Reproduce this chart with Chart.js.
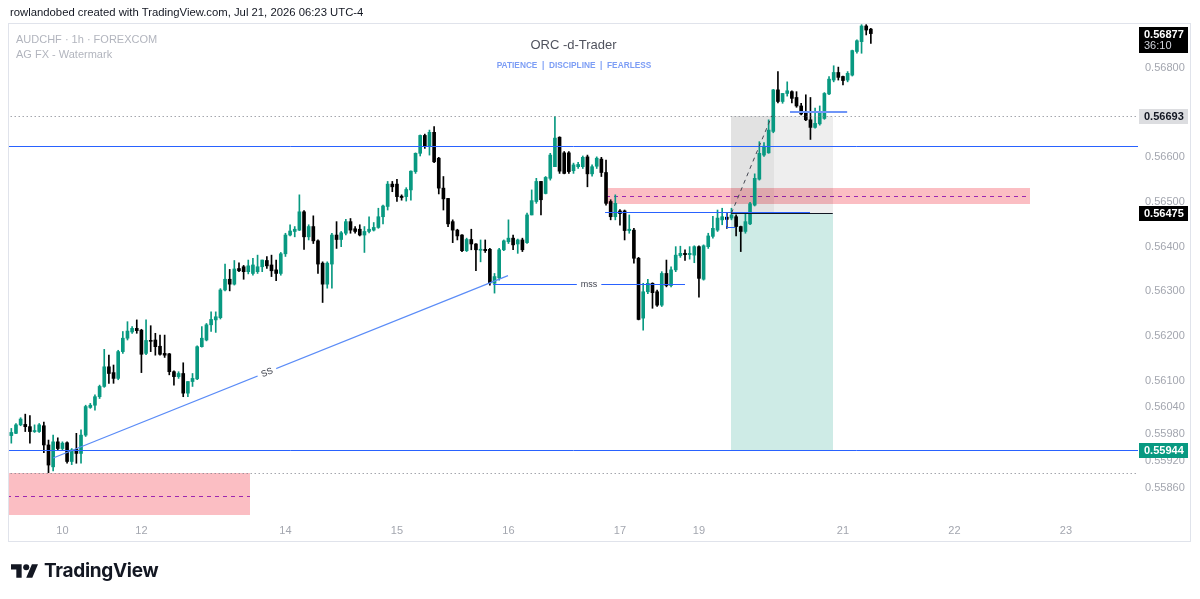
<!DOCTYPE html>
<html>
<head>
<meta charset="utf-8">
<script src="https://cdn.jsdelivr.net/npm/chart.js@4.4.1/dist/chart.umd.min.js"></script>
<style>
html, body { margin: 0; padding: 0; background: #fff; }
#wrap { position: relative; width: 1200px; height: 599px; overflow: hidden; font-family: "Liberation Sans", Arial, sans-serif; }
#c { position: absolute; left: 0; top: 0; }
.t { position: absolute; white-space: nowrap; line-height: 1; }
</style>
</head>
<body>
<div id="wrap">
  <canvas id="c" width="1200" height="599"></canvas>
  <div class="t" style="left:10px;top:7px;font-size:11.3px;color:#131722">rowlandobed created with TradingView.com, Jul 21, 2026 06:23 UTC-4</div>
  <div class="t" style="left:16px;top:34px;font-size:11px;color:#b2b5be">AUDCHF · 1h · FOREXCOM</div>
  <div class="t" style="left:16px;top:49px;font-size:11px;color:#b2b5be">AG FX - Watermark</div>
  <div class="t" style="left:0;width:1147px;text-align:center;top:38px;font-size:13px;color:#50535e">ORC -d-Trader</div>
  <div class="t" style="left:0;width:1148px;text-align:center;top:61px;font-size:8.3px;font-weight:bold;color:#7c9df5">PATIENCE &nbsp;| &nbsp;DISCIPLINE &nbsp;| &nbsp;FEARLESS</div>
  <svg style="position:absolute;left:11px;top:564px" width="27" height="14" viewBox="0 4 35.5 18">
    <path d="M14 22H7V11H0V4h14v18zM28 22h-8l7.5-18h8L28 22z" fill="#131722"/>
    <circle cx="20" cy="8" r="4" fill="#131722"/>
  </svg>
  <div class="t" style="left:44px;top:561px;font-size:19px;font-weight:bold;font-family:Inter,'Liberation Sans',sans-serif;color:#131722;letter-spacing:-0.3px">TradingView</div>
</div>
<script>
// AUDCHF 1h candles, prices in 1e-5 units (56877 = 0.56877)
const opens = [
  55977,55982,56001,56002,55997,55986,55986,55999,55956,55907,
  55963,55948,55961,55919,55946,55937,55978,56040,56045,56064,
  56087,56131,56118,56105,56165,56195,56209,56217,56213,56161,
  56190,56191,56177,56161,56160,56120,56109,56116,56072,56098,
  56104,56176,56191,56225,56236,56241,56303,56327,56316,56351,
  56355,56344,56340,56344,56355,56369,56359,56348,56340,56384,
  56426,56434,56437,56478,56422,56445,56413,56363,56316,56361,
  56426,56416,56430,56456,56440,56439,56426,56434,56437,56443,
  56467,56490,56540,56540,56513,56512,56527,56568,56609,56649,
  56624,56656,56598,56531,56508,56456,56437,56426,56391,56416,
  56406,56392,56394,56394,56318,56330,56393,56411,56419,56406,
  56415,56409,56471,56501,56546,56519,56553,56579,56645,56610,
  56610,56570,56579,56579,56601,56563,56580,56596,56566,56501,
  56467,56480,56480,56436,56437,56374,56240,56299,56318,56299,
  56269,56340,56313,56348,56380,56385,56382,56381,56400,56327,
  56400,56423,56437,56460,56466,56464,56467,56445,56434,56451,
  56493,56551,56605,56610,56658,56751,56725,56743,56747,56734,
  56715,56700,56684,56667,56675,56687,56742,56773,56790,56781,
  56773,56784,56837,56859,56894,56887
];
const highs = [
  55993,56004,56017,56025,56022,56001,56004,56007,55967,55978,
  55972,55963,55963,55948,55982,55990,56045,56049,56068,56090,
  56170,56157,56135,56168,56210,56232,56221,56236,56215,56236,
  56223,56206,56202,56202,56161,56122,56120,56140,56098,56116,
  56178,56221,56228,56254,56254,56306,56361,56349,56369,56364,
  56358,56370,56374,56381,56370,56378,56381,56370,56387,56430,
  56449,56445,56516,56481,56449,56469,56415,56366,56366,56430,
  56456,56434,56461,56463,56445,56449,56445,56467,56454,56486,
  56493,56546,56546,56551,56516,56532,56570,56610,56650,56652,
  56661,56669,56600,56557,56508,56460,56439,56427,56419,56439,
  56407,56415,56415,56396,56340,56396,56415,56460,56426,56417,
  56419,56475,56527,56553,56546,56557,56609,56691,56646,56613,
  56613,56587,56589,56603,56605,56583,56601,56600,56594,56505,
  56516,56483,56482,56471,56441,56376,56318,56327,56319,56303,
  56344,56370,56355,56400,56401,56393,56400,56402,56402,56404,
  56430,56468,56482,56486,56475,56486,56471,56446,56475,56499,
  56563,56635,56633,56684,56752,56792,56743,56769,56749,56747,
  56721,56740,56734,56710,56715,56745,56781,56805,56802,56782,
  56792,56840,56863,56897,56897,56889
];
const lows = [
  55960,55981,55999,55986,55960,55984,55984,55939,55894,55898,
  55945,55945,55915,55912,55915,55915,55975,56038,56034,56060,
  56085,56094,56094,56102,56161,56191,56206,56206,56118,56158,
  56165,56157,56157,56152,56113,56090,56105,56064,56064,56087,
  56102,56175,56189,56210,56208,56238,56301,56301,56314,56344,
  56327,56339,56336,56340,56344,56351,56333,56324,56336,56378,
  56424,56422,56436,56394,56415,56407,56340,56275,56307,56307,
  56396,56400,56426,56430,56430,56424,56387,56431,56435,56441,
  56451,56482,56523,56501,56504,56502,56504,56564,56603,56620,
  56605,56588,56518,56482,56445,56409,56415,56389,56389,56393,
  56346,56366,56387,56314,56296,56325,56391,56407,56393,56385,
  56389,56407,56471,56497,56471,56518,56549,56579,56564,56563,
  56564,56564,56575,56575,56534,56558,56575,56557,56493,56460,
  56460,56448,56415,56430,56363,56236,56213,56295,56262,56266,
  56266,56310,56310,56344,56376,56369,56372,56364,56287,56325,
  56396,56419,56434,56449,56441,56460,56424,56389,56430,56449,
  56491,56549,56602,56609,56655,56722,56721,56737,56722,56712,
  56695,56682,56640,56665,56672,56685,56740,56769,56773,56762,
  56769,56782,56833,56833,56874,56855
];
const closes = [
  55984,56001,56014,55997,55986,55988,56001,55956,55911,55963,
  55948,55960,55919,55945,55937,55978,56042,56045,56064,56087,
  56131,56116,56105,56165,56195,56211,56217,56212,56159,56190,
  56188,56176,56159,56157,56120,56109,56116,56072,56098,56105,
  56176,56195,56225,56237,56243,56303,56327,56316,56350,56346,
  56344,56357,56359,56355,56370,56357,56346,56340,56384,56426,
  56435,56439,56478,56422,56445,56413,56361,56316,56363,56426,
  56416,56431,56456,56437,56434,56426,56434,56439,56443,56467,
  56491,56540,56534,56512,56510,56528,56569,56609,56649,56624,
  56656,56590,56531,56507,56451,56437,56424,56391,56416,56406,
  56393,56394,56391,56319,56333,56393,56413,56419,56404,56415,
  56393,56471,56503,56546,56505,56555,56605,56643,56569,56564,
  56568,56583,56584,56600,56563,56579,56598,56566,56497,56467,
  56497,56474,56436,56439,56374,56237,56299,56318,56297,56269,
  56340,56313,56348,56381,56385,56382,56385,56400,56329,56402,
  56424,56441,56464,56467,56461,56471,56445,56434,56456,56496,
  56553,56609,56625,56661,56751,56725,56743,56749,56732,56715,
  56697,56684,56667,56676,56699,56743,56775,56790,56779,56772,
  56788,56839,56861,56894,56885,56877
];

// price axis ticks and day labels shown on the time axis
const yTicks = [0.56800, 0.56600, 0.56500, 0.56400, 0.56300, 0.56200, 0.56100, 0.56040, 0.55980, 0.55920, 0.55860];
const shownDays = ['10', '12', '14', '15', '16', '17', '19', '21', '22', '23'];
const slotCount = 243;

// hourly slots from Thu 9 Jul 2026 13:00, forex weekend skipped
const categories = [];
const dayOf = [];
let t = Date.UTC(2026, 6, 9, 13);
while (categories.length < slotCount) {
  const d = new Date(t);
  const wd = d.getUTCDay(), h = d.getUTCHours();
  const closed = (wd === 5 && h >= 17) || wd === 6 || (wd === 0 && h < 17);
  if (!closed) {
    categories.push(d.getUTCDate() + ' ' + String(h).padStart(2, '0') + ':00');
    dayOf.push(String(d.getUTCDate()));
  }
  t += 3600000;
}
const tickText = dayOf.map((d, i) => (i > 0 && dayOf[i - 1] !== d && shownDays.includes(d)) ? d : '');

const UP = '#089981', DOWN = '#000000';
const px = v => v / 100000;
const bodies = opens.map((o, i) => [px(o), px(closes[i])]);
const wicks = lows.map((l, i) => [px(l), px(highs[i])]);
const candleColors = opens.map((o, i) => closes[i] >= o ? UP : DOWN);

// chart drawings in data units (slot index, price)
const zones = [
  { from: -1, to: 51.4, top: 0.55894, bottom: 0.55800, fill: 'rgba(242,54,69,0.32)', mid: 0.55842 },
  { from: 128.0, to: 219.3, top: 0.565313, bottom: 0.564955, fill: 'rgba(242,54,69,0.32)', mid: 0.565134 },
  { from: 154.9, to: 176.8, top: 0.56693, bottom: 0.56475, fill: 'rgba(0,0,0,0.065)' },
  { from: 154.9, to: 164.2, top: 0.56693, bottom: 0.56475, fill: 'rgba(0,0,0,0.05)' },
  { from: 154.9, to: 176.8, top: 0.56475, bottom: 0.55944, fill: 'rgba(8,153,129,0.2)' }
];
const segments = [
  { x0: -1, y0: 0.56625, x1: 244, y1: 0.56625, color: '#2962ff', w: 1 },
  { x0: -1, y0: 0.55944, x1: 244, y1: 0.55944, color: '#2962ff', w: 1 },
  { x0: -1, y0: 0.56693, x1: 244, y1: 0.56693, color: '#787b86', w: 1, dash: [1, 3] },
  { x0: -1, y0: 0.55894, x1: 244, y1: 0.55894, color: '#787b86', w: 1, dash: [1, 3] },
  { x0: 127.8, y0: 0.564769, x1: 171.9, y1: 0.564769, color: '#2962ff', w: 1 },
  { x0: 167.6, y0: 0.56701, x1: 179.9, y1: 0.56701, color: '#6f95f7', w: 2 },
  { x0: 153.9, y0: 0.564769, x1: 153.9, y1: 0.564447, color: '#2962ff', w: 1 },
  { x0: 153.9, y0: 0.564447, x1: 155.8, y1: 0.564447, color: '#2962ff', w: 1 },
  { x0: 154.9, y0: 0.56475, x1: 176.8, y1: 0.56475, color: '#131722', w: 1 },
  { x0: 103.7, y0: 0.563157, x1: 145.0, y1: 0.563157, color: '#2962ff', w: 1, label: 'mss' },
  { x0: 9.0, y0: 0.559268, x1: 106.9, y1: 0.56335, color: '#5b8cf7', w: 1.2, label: 'SS', at: 0.47 },
  { x0: 155.0, y0: 0.56475, x1: 163.7, y1: 0.56693, color: '#434651', w: 1, dash: [4, 4] }
];
const priceTags = [
  { price: 0.56877, text: '0.56877', sub: '36:10', bg: '#000000', fg: '#ffffff' },
  { price: 0.56693, text: '0.56693', bg: '#dcdde0', fg: '#131722' },
  { price: 0.56475, text: '0.56475', bg: '#000000', fg: '#ffffff' },
  { price: 0.55944, text: '0.55944', bg: '#089981', fg: '#ffffff' }
];

const drawingsPlugin = {
  id: 'drawings',
  beforeDatasetsDraw(chart) {
    const { ctx, chartArea: a, scales: { x, y } } = chart;
    ctx.save();
    ctx.beginPath();
    ctx.rect(a.left, a.top, a.right - a.left, a.bottom - a.top);
    ctx.clip();
    zones.forEach(z => {
      const X0 = Math.round(x.getPixelForValue(z.from)), X1 = Math.round(x.getPixelForValue(z.to));
      const Y0 = Math.round(y.getPixelForValue(z.top)), Y1 = Math.round(y.getPixelForValue(z.bottom));
      ctx.fillStyle = z.fill;
      ctx.fillRect(X0, Y0, X1 - X0, Y1 - Y0);
      if (z.mid) {
        const ym = Math.round(y.getPixelForValue(z.mid)) + 0.5;
        ctx.strokeStyle = '#9c27b0';
        ctx.lineWidth = 1;
        ctx.setLineDash([4, 4]);
        ctx.beginPath();
        ctx.moveTo(X0, ym);
        ctx.lineTo(X1, ym);
        ctx.stroke();
        ctx.setLineDash([]);
      }
    });
    ctx.restore();
  },
  afterDatasetsDraw(chart) {
    const { ctx, chartArea: a, scales: { x, y } } = chart;
    ctx.save();
    ctx.beginPath();
    ctx.rect(a.left, a.top, a.right - a.left, a.bottom - a.top);
    ctx.clip();
    segments.forEach(s => {
      let X0 = x.getPixelForValue(s.x0), X1 = x.getPixelForValue(s.x1);
      let Y0 = y.getPixelForValue(s.y0), Y1 = y.getPixelForValue(s.y1);
      if (s.y0 === s.y1) { Y0 = Y1 = Math.round(Y0) + (s.w === 1 ? 0.5 : 0); }
      if (s.x0 === s.x1) { X0 = X1 = Math.round(X0) + 0.5; }
      ctx.strokeStyle = s.color;
      ctx.lineWidth = s.w;
      ctx.setLineDash(s.dash || []);
      ctx.beginPath();
      ctx.moveTo(X0, Y0);
      ctx.lineTo(X1, Y1);
      ctx.stroke();
      ctx.setLineDash([]);
      if (s.label) {
        const f = s.at || 0.5;
        const cx = X0 + (X1 - X0) * f, cy = Y0 + (Y1 - Y0) * f;
        ctx.save();
        ctx.translate(cx, cy);
        ctx.rotate(Math.atan2(Y1 - Y0, X1 - X0));
        ctx.font = '9px "Liberation Sans", Arial, sans-serif';
        const w = ctx.measureText(s.label).width;
        ctx.fillStyle = '#ffffff';
        ctx.fillRect(-w / 2 - 4, -5, w + 8, 10);
        ctx.fillStyle = '#434651';
        ctx.textAlign = 'center';
        ctx.textBaseline = 'middle';
        ctx.fillText(s.label, 0, 0.5);
        ctx.restore();
      }
    });
    ctx.restore();
  },
  afterDraw(chart) {
    const { ctx, chartArea: a, scales: { y } } = chart;
    ctx.save();
    ctx.strokeStyle = '#e0e3eb';
    ctx.lineWidth = 1;
    ctx.strokeRect(8.5, 23.5, 1182, 518);
    priceTags.forEach(p => {
      const yc = Math.round(y.getPixelForValue(p.price));
      const h = p.sub ? 26 : 15;
      const top = yc - 7;
      ctx.fillStyle = p.bg;
      ctx.fillRect(a.right + 1, top, 49, h);
      ctx.fillStyle = p.fg;
      ctx.font = 'bold 11px "Liberation Sans", Arial, sans-serif';
      ctx.textBaseline = 'middle';
      ctx.textAlign = 'left';
      ctx.fillText(p.text, a.right + 6, top + 7.5);
      if (p.sub) {
        ctx.font = '11px "Liberation Sans", Arial, sans-serif';
        ctx.fillStyle = '#d1d4dc';
        ctx.fillText(p.sub, a.right + 6, top + 19);
      }
    });
    ctx.restore();
  }
};

new Chart(document.getElementById('c'), {
  type: 'bar',
  data: {
    labels: categories,
    datasets: [
      {
        label: 'body',
        data: bodies,
        backgroundColor: candleColors,
        barThickness: 3,
        minBarLength: 1,
        grouped: false,
        order: 0
      },
      {
        label: 'wick',
        data: wicks,
        backgroundColor: candleColors,
        barThickness: 1,
        grouped: false,
        order: 1
      }
    ]
  },
  options: {
    responsive: false,
    animation: false,
    events: [],
    layout: { padding: { top: 24, left: 9, right: 10, bottom: 58 } },
    plugins: { legend: { display: false }, tooltip: { enabled: false } },
    scales: {
      x: {
        type: 'category',
        grid: { display: false, drawTicks: false },
        border: { display: false },
        afterFit: s => { s.height = 24; },
        ticks: {
          autoSkip: false,
          maxRotation: 0,
          padding: 7,
          color: '#a3a6af',
          font: { size: 11, family: '"Liberation Sans", Arial, sans-serif' },
          callback: (v, i) => tickText[i]
        }
      },
      y: {
        position: 'right',
        min: 0.557947,
        max: 0.568985,
        grid: { display: false, drawTicks: false },
        border: { display: false },
        afterFit: s => { s.width = 52; },
        afterBuildTicks: s => { s.ticks = yTicks.map(v => ({ value: v })); },
        ticks: {
          padding: 7,
          color: '#a3a6af',
          font: { size: 11, family: '"Liberation Sans", Arial, sans-serif' },
          callback: v => v.toFixed(5)
        }
      }
    }
  },
  plugins: [drawingsPlugin]
});
</script>
</body>
</html>
